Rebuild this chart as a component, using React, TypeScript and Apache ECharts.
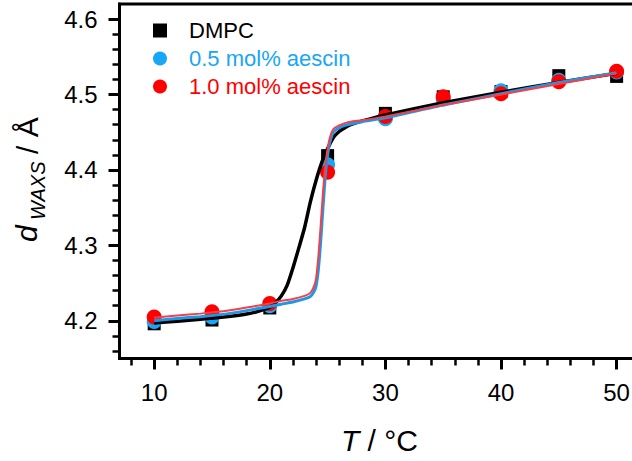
import React, { useEffect, useRef } from 'react';
import * as echarts from 'echarts';

// Measured points
const temperatures = [10, 15, 20, 25, 30, 35, 40, 45, 50];
const dmpcValues = [4.196, 4.201, 4.217, 4.419, 4.475, 4.497, 4.504, 4.525, 4.524];
const aescin05Values = [4.199, 4.205, 4.220, 4.407, 4.468, 4.494, 4.505, 4.519, 4.530];
const aescin10Values = [4.205, 4.212, 4.223, 4.397, 4.471, 4.497, 4.501, 4.517, 4.531];

// Fit curves
const fitTempsDmpc = [10, 12, 14, 16, 18, 19, 20, 20.5, 21, 21.5, 22, 22.5, 23, 23.5, 24, 24.5, 25, 25.5, 26, 26.5, 27, 28, 30, 35, 40, 45, 50];
const fitDmpc = [4.197, 4.1995, 4.202, 4.205, 4.209, 4.2125, 4.218, 4.224, 4.233, 4.247, 4.27, 4.296, 4.323, 4.357, 4.386, 4.41, 4.428, 4.443, 4.451, 4.456, 4.46, 4.465, 4.473, 4.489, 4.503, 4.516, 4.528];
const fitTempsAescin = [10, 12, 14, 16, 18, 20, 21, 22, 23, 23.5, 23.8, 24, 24.2, 24.4, 24.6, 24.8, 25, 25.2, 25.5, 26, 26.5, 27, 28, 30, 35, 40, 45, 50];
const fitAescin05 = [4.2, 4.203, 4.2055, 4.2085, 4.2135, 4.219, 4.222, 4.225, 4.229, 4.232, 4.238, 4.246, 4.268, 4.305, 4.35, 4.392, 4.42, 4.437, 4.45, 4.456, 4.459, 4.461, 4.464, 4.469, 4.486, 4.501, 4.516, 4.529];
const fitAescin10 = [4.204, 4.207, 4.2095, 4.2125, 4.2175, 4.223, 4.2265, 4.229, 4.233, 4.237, 4.245, 4.256, 4.285, 4.326, 4.37, 4.405, 4.428, 4.443, 4.454, 4.459, 4.462, 4.464, 4.466, 4.471, 4.486, 4.5, 4.514, 4.528];

// Ticks
const xMajorTicks = [10, 20, 30, 40, 50];
const xMinorTicks = [8, 12, 14, 16, 18, 22, 24, 26, 28, 32, 34, 36, 38, 42, 44, 46, 48, 52];
const yMajorTicks = [4.2, 4.3, 4.4, 4.5, 4.6];
const yMinorTicks = [4.16, 4.18, 4.22, 4.24, 4.26, 4.28, 4.32, 4.34, 4.36, 4.38, 4.42, 4.44, 4.46, 4.48, 4.52, 4.54, 4.56, 4.58];

const seriesNames = ['DMPC', '0.5 mol% aescin', '1.0 mol% aescin'];

const FONT = '"Liberation Sans", Arial, Helvetica, sans-serif';
const BLACK = '#000000';
const BLUE = '#18A6F6';
const BLUE_LINE = '#1E98E4';
const RED = '#FF0000';
const RED_LINE = '#F2404C';

const pairs = (xs: number[], ys: number[]) => xs.map((x, i) => [x, ys[i]]);

export default function App() {
  const ref = useRef<HTMLDivElement>(null);
  useEffect(() => {
    document.body.style.margin = '0';
    if (!ref.current) return;
    const chart = echarts.init(ref.current, undefined, { renderer: 'svg' });
    const axisLabelBase = { color: BLACK, fontFamily: FONT, fontSize: 24 };
    chart.setOption({
      animation: false,
      backgroundColor: '#ffffff',
      grid: {
        left: 119.5,
        top: 4,
        width: 531.8,
        height: 354.5,
        show: true,
        borderColor: BLACK,
        borderWidth: 3,
        containLabel: false,
        outerBoundsMode: 'none',
      },
      xAxis: [
        {
          type: 'value',
          min: 7,
          max: 53,
          position: 'bottom',
          axisLine: { show: true, lineStyle: { color: BLACK, width: 3 } },
          axisTick: { show: true, customValues: xMajorTicks, length: 11, lineStyle: { color: BLACK, width: 3 } },
          axisLabel: { ...axisLabelBase, customValues: xMajorTicks, margin: 22 },
          splitLine: { show: false },
          name: '{i|T} / °C',
          nameLocation: 'middle',
          nameGap: 67,
          nameTextStyle: {
            fontSize: 30,
            color: BLACK,
            fontFamily: FONT,
            padding: [0, 12, 0, 0],
            rich: { i: { fontStyle: 'italic', fontSize: 30, color: BLACK, fontFamily: FONT } },
          },
        },
        {
          type: 'value',
          min: 7,
          max: 53,
          position: 'bottom',
          axisLine: { show: false },
          axisTick: { show: true, customValues: xMinorTicks, length: 7, lineStyle: { color: BLACK, width: 2.5 } },
          axisLabel: { show: false },
          splitLine: { show: false },
        },
      ],
      yAxis: [
        {
          type: 'value',
          min: 4.15,
          max: 4.62,
          position: 'left',
          axisLine: { show: true, lineStyle: { color: BLACK, width: 3 } },
          axisTick: { show: true, customValues: yMajorTicks, length: 11, lineStyle: { color: BLACK, width: 3 } },
          axisLabel: {
            ...axisLabelBase,
            customValues: yMajorTicks,
            margin: 22,
            formatter: (v: number) => v.toFixed(1),
          },
          splitLine: { show: false },
        },
        {
          type: 'value',
          min: 4.15,
          max: 4.62,
          position: 'left',
          axisLine: { show: false },
          axisTick: { show: true, customValues: yMinorTicks, length: 7, lineStyle: { color: BLACK, width: 2.5 } },
          axisLabel: { show: false },
          splitLine: { show: false },
        },
      ],
      legend: {
        orient: 'vertical',
        left: 148,
        top: 14.5,
        itemWidth: 14,
        itemHeight: 14,
        itemGap: 6,
        selectedMode: false,
        textStyle: { fontSize: 22, fontFamily: FONT, padding: [0, 0, 0, 17] },
        data: [
          { name: seriesNames[0], textStyle: { color: BLACK } },
          { name: seriesNames[1], textStyle: { color: BLUE } },
          { name: seriesNames[2], textStyle: { color: RED } },
        ],
      },
      graphic: [
        {
          type: 'group',
          x: 26,
          y: 242,
          rotation: Math.PI / 2,
          children: [
            {
              type: 'text',
              x: 0,
              y: 0,
              style: { text: 'd', fontSize: 30, fontStyle: 'italic', fontFamily: FONT, fill: BLACK, align: 'left', verticalAlign: 'middle' },
            },
            {
              type: 'text',
              x: 22,
              y: 12,
              style: { text: 'WAXS', fontSize: 20, fontStyle: 'italic', fontFamily: FONT, fill: BLACK, align: 'left', verticalAlign: 'middle' },
            },
            {
              type: 'text',
              x: 88,
              y: 1,
              style: { text: '/ Å', fontSize: 30, fontFamily: FONT, fill: BLACK, align: 'left', verticalAlign: 'middle' },
            },
          ],
        },
      ],
      series: [
        {
          type: 'scatter',
          name: seriesNames[0],
          data: pairs(temperatures, dmpcValues),
          symbol: 'rect',
          symbolSize: 13,
          itemStyle: { color: BLACK, opacity: 1 },
          z: 2,
        },
        {
          type: 'scatter',
          name: seriesNames[1],
          data: pairs(temperatures, aescin05Values),
          symbol: 'circle',
          symbolSize: 15,
          itemStyle: { color: BLUE, opacity: 1 },
          z: 3,
        },
        {
          type: 'scatter',
          name: seriesNames[2],
          data: pairs(temperatures, aescin10Values),
          symbol: 'circle',
          symbolSize: 15,
          itemStyle: { color: RED, opacity: 1 },
          z: 4,
        },
        {
          type: 'line',
          name: 'DMPC fit',
          data: pairs(fitTempsDmpc, fitDmpc),
          showSymbol: false,
          symbol: 'none',
          smooth: 0.2,
          lineStyle: { color: BLACK, width: 3.5 },
          z: 5,
        },
        {
          type: 'line',
          name: '0.5 fit',
          data: pairs(fitTempsAescin, fitAescin05),
          showSymbol: false,
          symbol: 'none',
          smooth: 0.2,
          lineStyle: { color: BLUE_LINE, width: 3 },
          z: 6,
        },
        {
          type: 'line',
          name: '1.0 fit',
          data: pairs(fitTempsAescin, fitAescin10),
          showSymbol: false,
          symbol: 'none',
          smooth: 0.2,
          lineStyle: { color: RED_LINE, width: 2 },
          z: 7,
        },
      ],
    });
    return () => chart.dispose();
  }, []);
  return <div ref={ref} style={{ width: 632, height: 461 }} />;
}
